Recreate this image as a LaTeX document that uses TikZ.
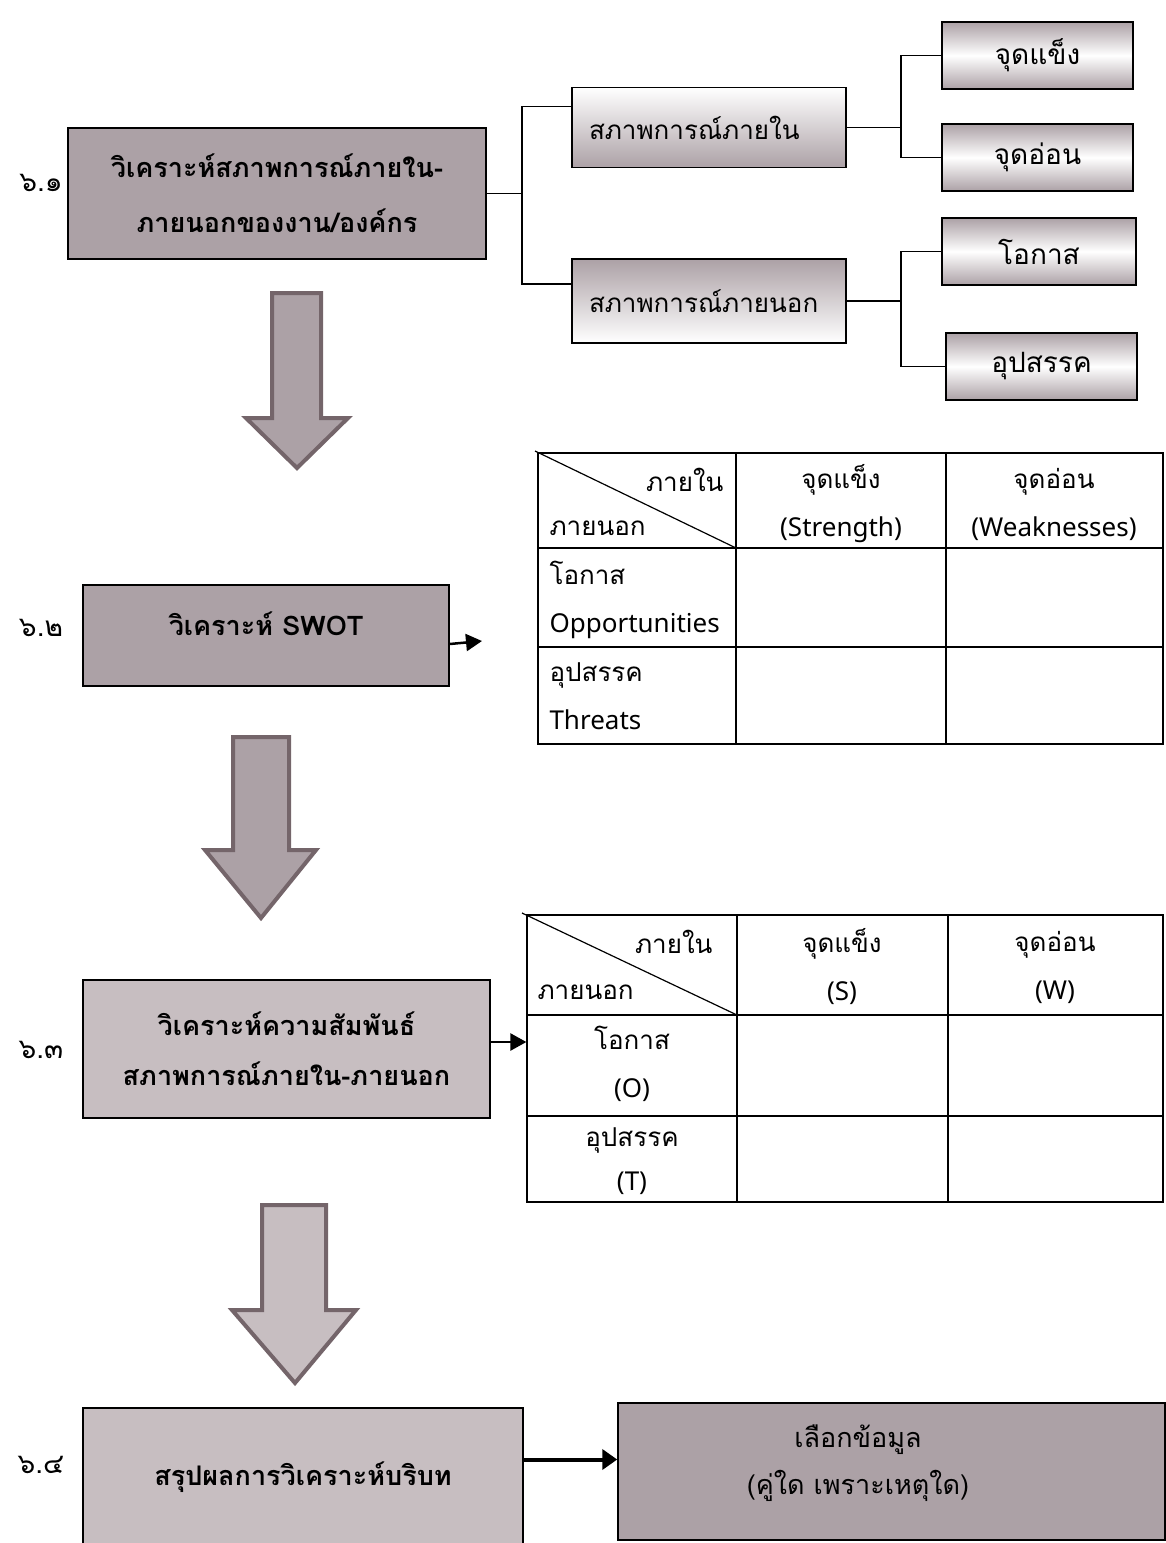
\documentclass[tikz,border=0pt]{standalone}
\usepackage{fontspec}
\setmainfont{Noto Sans}
\newfontfamily\thaifont[Script=Thai]{Loma}
\usepackage{tikz}
\usetikzlibrary{arrows.meta}
\definecolor{mauve}{HTML}{ACA1A6}
\definecolor{paleMauve}{HTML}{C7BEC1}
\definecolor{arrowEdge}{HTML}{74656A}
\tikzstyle{stageBox} = [draw, line width=1.5pt, fill=mauve, align=center, font=\thaifont\bfseries\fontsize{27}{55}\selectfont]
\tikzstyle{subBox} = [draw, line width=1.5pt, minimum width=274, minimum height=80, text width=240, inner xsep=17, align=left, font=\thaifont\fontsize{26}{30}\selectfont]
\tikzstyle{leafBox} = [draw, line width=1.5pt, top color=mauve, bottom color=mauve, middle color=white, minimum width=191, minimum height=67, font=\thaifont\fontsize{28}{30}\selectfont]
\tikzstyle{stepNo} = [font=\thaifont\fontsize{28}{30}\selectfont]
\tikzstyle{cell} = [align=center, font=\fontsize{26}{48}\selectfont]
\tikzstyle{blockArrow} = [draw=arrowEdge, line width=4pt, line join=miter]
\tikzstyle{link} = [line width=1.5pt]
\tikzstyle{pointer} = [line width=2.5pt, -{Triangle[length=16pt,width=17pt]}]
\newcommand{\thai}[1]{{\thaifont #1}}

\begin{document}
\begin{tikzpicture}[x=1pt,y=-1pt]
	\useasboundingbox (0,0) rectangle (1166,1543);
	\clip (0,0) rectangle (1166,1543);
	% 6.1
	\node[stepNo] (noA) at (41,183) {๖.๑};
	\node[stageBox, minimum width=418, minimum height=131] (scanBox) at (277,193.5) {วิเคราะห์สภาพการณ์ภายใน-\\ภายนอกของงาน/องค์กร};
	\node[subBox, top color=white, bottom color=mauve] (inside) at (709,127.5) {สภาพการณ์ภายใน};
	\node[subBox, top color=mauve, bottom color=white, minimum height=84] (outside) at (709,301) {สภาพการณ์ภายนอก};
	\node[leafBox] (strong) at (1037.5,55.5) {จุดแข็ง};
	\node[leafBox] (weak) at (1037.5,157.5) {จุดอ่อน};
	\node[leafBox, minimum width=194] (chance) at (1039,251.5) {โอกาส};
	\node[leafBox] (threat) at (1041.5,366.5) {อุปสรรค};
	\coordinate (forkScan) at (522,193.5);
	\coordinate (forkIn) at (901,127.5);
	\coordinate (forkOut) at (901,301);
	\draw[link] (scanBox.east) -- (forkScan);
	\draw[link] ([yshift=21pt]inside.west) -| (forkScan) |- ([yshift=17pt]outside.west);
	\draw[link] (inside.east) -- (forkIn);
	\draw[link] (strong.west) -| (forkIn) |- (weak.west);
	\draw[link] (outside.east) -- (forkOut);
	\draw[link] (chance.west) -| (forkOut) |- (threat.west);
	\draw[blockArrow, fill=mauve] (272,293) -- (321,293) -- (321,418) -- (348,418) -- (297,468) -- (246,418) -- (272,418) -- cycle;

	% 6.2
	\node[stepNo] (noB) at (41,628) {๖.๒};
	\node[stageBox, minimum width=366, minimum height=101, text depth=24pt] (swotBox) at (266,635.5) {วิเคราะห์ SWOT};
	\coordinate (swotTip) at (482,641);
	\draw[pointer] (swotBox.east |- 0,644) -- (swotTip);
	\node[draw, line width=1.2pt, minimum width=625, minimum height=291] (gridA) at (850.5,598.5) {};
	\draw[line width=1.2pt] (736,453) -- (736,744) (946,453) -- (946,744) (538,548) -- (1163,548) (538,647) -- (1163,647);
	\draw[line width=1.2pt] (535,451) -- (736,548);
	\node[cell, anchor=east] (inA) at (727,480) {\thai{ภายใน}};
	\node[cell, anchor=west] (outA) at (546,528) {\thai{ภายนอก}};
	\node[cell] (strongA) at (841,504) {\thai{จุดแข็ง}\\(Strength)};
	\node[cell] (weakA) at (1054,504) {\thai{จุดอ่อน}\\(Weaknesses)};
	\node[cell, anchor=west, align=left] (chanceA) at (546,600) {\thai{โอกาส}\\Opportunities};
	\node[cell, anchor=west, align=left] (threatA) at (546,696) {\thai{อุปสรรค}\\Threats};
	\draw[blockArrow, fill=mauve] (233,737) -- (289,737) -- (289,850) -- (316,850) -- (261,918) -- (205,850) -- (233,850) -- cycle;

	% 6.3
	\node[stepNo] (noC) at (41,1050) {๖.๓};
	\node[stageBox, fill=paleMauve, minimum width=407, minimum height=138, font=\thaifont\bfseries\fontsize{27}{50}\selectfont] (pairBox) at (286.5,1049) {วิเคราะห์ความสัมพันธ์\\สภาพการณ์ภายใน-ภายนอก};
	\node[draw, line width=1.2pt, minimum width=636, minimum height=287] (gridB) at (845,1058.5) {};
	\draw[pointer] (pairBox.east |- 0,1042) -- (gridB.west |- 0,1042);
	\draw[line width=1.2pt] (737,915) -- (737,1202) (948,915) -- (948,1202) (527,1015) -- (1163,1015) (527,1116) -- (1163,1116);
	\draw[line width=1.2pt] (522,913) -- (737,1015);
	\node[cell, anchor=east] (inB) at (716,942) {\thai{ภายใน}};
	\node[cell, anchor=west] (outB) at (534,992) {\thai{ภายนอก}};
	\node[cell] (strongB) at (842,967) {\thai{จุดแข็ง}\\(S)};
	\node[cell] (weakB) at (1055,967) {\thai{จุดอ่อน}\\(W)};
	\node[cell] (chanceB) at (632,1064) {\thai{โอกาส}\\(O)};
	\node[cell, font=\fontsize{26}{44}\selectfont] (threatB) at (632,1161) {\thai{อุปสรรค}\\(T)};
	\draw[blockArrow, fill=paleMauve] (262,1205) -- (326,1205) -- (326,1310) -- (356,1310) -- (295,1383) -- (232,1310) -- (262,1310) -- cycle;

	% 6.4
	\node[stepNo] (noD) at (41,1465) {๖.๔};
	\node[stageBox, fill=paleMauve, minimum width=440, minimum height=138] (sumBox) at (303,1477) {สรุปผลการวิเคราะห์บริบท};
	\node[draw, line width=1.5pt, fill=mauve, minimum width=547, minimum height=137] (pick) at (891.5,1471.5) {};
	\node[align=center, font=\thaifont\fontsize{27}{47}\selectfont] (pickText) at (858,1463) {เลือกข้อมูล\\(คู่ใด เพราะเหตุใด)};
	\coordinate (pickIn) at ([yshift=12pt]pick.west);
	\draw[line width=4pt, -{Triangle[length=15pt,width=20pt]}] (sumBox.east |- pickIn) -- (pickIn);
\end{tikzpicture}
\end{document}
